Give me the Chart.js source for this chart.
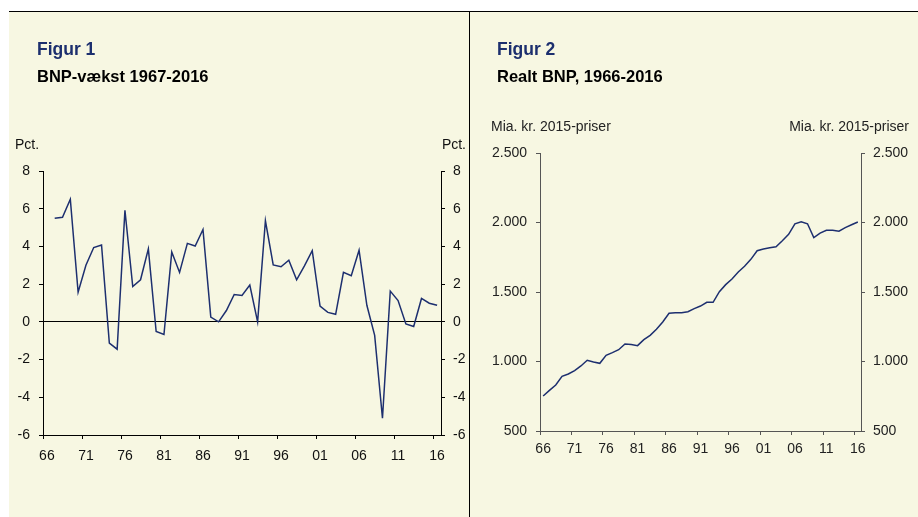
<!DOCTYPE html>
<html lang="da">
<head>
<meta charset="utf-8">
<title>BNP-vækst og realt BNP</title>
<script src="https://cdn.jsdelivr.net/npm/chart.js@4.4.1/dist/chart.umd.min.js"></script>
<style>
  html, body { margin: 0; padding: 0; background: #fff; }
  body {
    width: 918px; height: 517px; position: relative; overflow: hidden;
    font-family: 'Liberation Sans', Arial, sans-serif;
  }
  .panel { position: absolute; top: 11px; height: 505px; background: #f7f7e2; border-top: 1px solid #000; }
  #p1 { left: 9px; width: 460px; }
  #p2 { left: 469px; width: 448px; border-left: 1px solid #000; }
  .panel canvas { position: absolute; left: 0; top: 0; }
  .txt { position: absolute; white-space: nowrap; }
  .fig { font-weight: bold; font-size: 17.5px; line-height: 17.5px; color: #1c2f6e; top: 41px; }
  .sub { font-weight: bold; font-size: 16.5px; line-height: 16.5px; color: #000; top: 68px; }
  .unit { font-size: 14px; line-height: 14px; color: #111; }
</style>
</head>
<body>
<div class="panel" id="p1"><canvas id="chart1" width="460" height="505"></canvas></div>
<div class="panel" id="p2"><canvas id="chart2" width="448" height="505"></canvas></div>

<div class="txt fig" style="left:37px">Figur 1</div>
<div class="txt sub" style="left:37px">BNP-vækst 1967-2016</div>
<div class="txt unit" style="left:15px; top:137px">Pct.</div>
<div class="txt unit" style="right:452px; top:137px">Pct.</div>

<div class="txt fig" style="left:497px">Figur 2</div>
<div class="txt sub" style="left:497px">Realt BNP, 1966-2016</div>
<div class="txt unit" style="left:491px; top:119px; color:#222">Mia. kr. 2015-priser</div>
<div class="txt unit" style="right:9px; top:119px; color:#222">Mia. kr. 2015-priser</div>

<script>
// Years on the category axis (1966-2016)
const years = [
    '1966', '1967', '1968', '1969', '1970', '1971', '1972', '1973', '1974', '1975',
    '1976', '1977', '1978', '1979', '1980', '1981', '1982', '1983', '1984', '1985',
    '1986', '1987', '1988', '1989', '1990', '1991', '1992', '1993', '1994', '1995',
    '1996', '1997', '1998', '1999', '2000', '2001', '2002', '2003', '2004', '2005',
    '2006', '2007', '2008', '2009', '2010', '2011', '2012', '2013', '2014', '2015',
    '2016'
];

// Figur 1: BNP-vækst, pct. (no value for 1966)
const bnpVaekst = [
    null, 5.5, 5.55, 6.5, 1.57, 3.0, 3.94, 4.08, -1.13, -1.45,
    5.92, 1.87, 2.23, 3.87, -0.51, -0.67, 3.7, 2.62, 4.16, 4.02,
    4.9, 0.25, 0.0, 0.6, 1.45, 1.4, 1.95, 0.0, 5.36, 3.02,
    2.92, 3.27, 2.23, 2.97, 3.77, 0.83, 0.5, 0.4, 2.63, 2.45,
    3.8, 0.88, -0.72, -5.11, 1.63, 1.13, -0.11, -0.25, 1.24, 0.99,
    0.88
];

// Figur 2: Realt BNP, mia. kr. 2015-priser
const realtBnp = [
    752, 792, 831, 893, 910, 934, 968, 1009, 996, 987,
    1045, 1064, 1085, 1126, 1122, 1114, 1157, 1188, 1232, 1284,
    1347, 1350, 1350, 1358, 1380, 1399, 1426, 1426, 1502, 1553,
    1594, 1644, 1685, 1735, 1797, 1809, 1819, 1826, 1869, 1915,
    1991, 2006, 1991, 1891, 1924, 1944, 1944, 1937, 1963, 1984,
    2004
];

const pctTicks = [-6, -4, -2, 0, 2, 4, 6, 8];
const bnpTicks = [500, 1000, 1500, 2000, 2500];
const labelEvery = 5;

const lineColor = '#1d2f6f';
const fontSpec = { family: "'Liberation Sans', Arial, sans-serif", size: 14 };

function setTicks(list) {
    return function(scale) {
        scale.ticks = list.map(v => ({ value: v }));
    };
}

function fixWidth(w) {
    return function(scale) { scale.width = w; };
}

function fixHeight(h) {
    return function(scale) { scale.height = h; };
}

function thousands(v) {
    return String(v).replace(/\B(?=(\d{3})+(?!\d))/g, '.');
}

function yearAxis(color, textColor, pad, height) {
    return {
        type: 'category',
        offset: true,
        afterFit: fixHeight(height),
        border: { display: true, color: color, width: 1 },
        grid: {
            offset: true,
            drawOnChartArea: false,
            tickLength: 4,
            tickColor: ctx => (ctx.index !== undefined && ctx.index % labelEvery === 0) ? color : 'rgba(0,0,0,0)'
        },
        ticks: {
            autoSkip: false,
            maxRotation: 0,
            minRotation: 0,
            padding: pad,
            color: textColor,
            font: fontSpec,
            callback: (val, i) => i % labelEvery === 0 ? years[i].slice(2) : ''
        }
    };
}

function valueAxis(pos, min, max, list, color, textColor, pad, width, zeroLine, fmt) {
    return {
        position: pos,
        min: min,
        max: max,
        afterBuildTicks: setTicks(list),
        afterFit: fixWidth(width),
        border: { display: true, color: color, width: 1 },
        grid: {
            drawOnChartArea: zeroLine,
            tickLength: 4,
            tickColor: color,
            color: ctx => (zeroLine && ctx.tick && ctx.tick.value === 0) ? '#000' : 'rgba(0,0,0,0)'
        },
        ticks: {
            padding: pad,
            color: textColor,
            font: fontSpec,
            callback: v => fmt(v)
        }
    };
}

function baseOptions() {
    return {
        responsive: false,
        animation: false,
        plugins: { legend: { display: false }, tooltip: { enabled: false } },
        elements: { point: { radius: 0 }, line: { tension: 0 } }
    };
}

// Figur 1
const opt1 = baseOptions();
opt1.layout = { padding: { top: 159, left: 0, right: 0, bottom: 0 } };
opt1.scales = {
    x: yearAxis('#000', '#111', 9, 82),
    y: valueAxis('left', -6, 8, pctTicks, '#000', '#111', 9, 34, true, v => String(v)),
    y2: valueAxis('right', -6, 8, pctTicks, '#000', '#111', 8, 28, false, v => String(v))
};

new Chart(document.getElementById('chart1'), {
    type: 'line',
    data: {
        labels: years,
        datasets: [{
            data: bnpVaekst,
            borderColor: lineColor,
            borderWidth: 1.5,
            fill: false,
            yAxisID: 'y'
        }]
    },
    options: opt1
});

// Figur 2
const opt2 = baseOptions();
opt2.layout = { padding: { top: 141, left: 0, right: 0, bottom: 0 } };
opt2.scales = {
    x: yearAxis('#555', '#222', 6, 86),
    y: valueAxis('left', 500, 2500, bnpTicks, '#555', '#222', 9, 70, false, thousands),
    y2: valueAxis('right', 500, 2500, bnpTicks, '#555', '#222', 8, 57, false, thousands)
};

new Chart(document.getElementById('chart2'), {
    type: 'line',
    data: {
        labels: years,
        datasets: [{
            data: realtBnp,
            borderColor: lineColor,
            borderWidth: 1.5,
            fill: false,
            yAxisID: 'y'
        }]
    },
    options: opt2
});
</script>
</body>
</html>
